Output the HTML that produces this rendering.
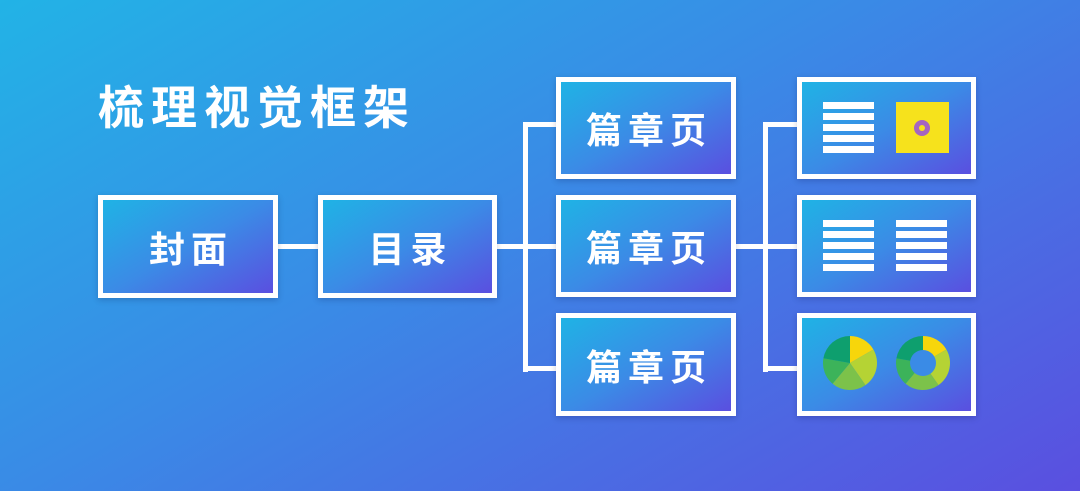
<!DOCTYPE html>
<html><head><meta charset="utf-8"><style>
html,body{margin:0;padding:0;}
body{width:1080px;height:491px;overflow:hidden;background:linear-gradient(150deg,#22b3e6 0%,#3a8ae6 45%,#5a4fe0 100%);position:relative;font-family:"Liberation Sans","Noto Sans CJK SC",sans-serif;}
.t{position:absolute;left:98px;top:78px;color:#fff;font-size:46px;font-weight:bold;letter-spacing:7px;line-height:60px;}
.b{position:absolute;box-sizing:border-box;border:5px solid #fff;background:linear-gradient(150deg,#1fb3e5 0%,#3b8be6 50%,#5a4fe0 100%);color:#fff;font-weight:bold;font-size:36px;display:flex;align-items:center;justify-content:center;letter-spacing:6px;padding-left:6px;box-shadow:0 2px 6px rgba(0,0,60,.2);}
.l{position:absolute;background:#fff;}
svg{position:absolute;left:0;top:0;}
</style></head><body>
<div class="t">梳理视觉框架</div>
<div class="l" style="left:277px;top:244px;width:42px;height:5px"></div>
<div class="l" style="left:496px;top:244px;width:32px;height:5px"></div>
<div class="l" style="left:523px;top:122px;width:5px;height:250px"></div>
<div class="l" style="left:523px;top:122px;width:35px;height:5px"></div>
<div class="l" style="left:523px;top:244px;width:35px;height:5px"></div>
<div class="l" style="left:523px;top:366px;width:35px;height:5px"></div>
<div class="l" style="left:735px;top:244px;width:33px;height:5px"></div>
<div class="l" style="left:763px;top:122px;width:5px;height:250px"></div>
<div class="l" style="left:763px;top:122px;width:35px;height:5px"></div>
<div class="l" style="left:763px;top:244px;width:35px;height:5px"></div>
<div class="l" style="left:763px;top:366px;width:35px;height:5px"></div>
<div class="b" style="left:98px;top:195px;width:180px;height:103px">封面</div>
<div class="b" style="left:318px;top:195px;width:179px;height:103px">目录</div>
<div class="b" style="left:556px;top:77px;width:180px;height:102px">篇章页</div>
<div class="b" style="left:556px;top:195px;width:180px;height:102px">篇章页</div>
<div class="b" style="left:556px;top:313px;width:180px;height:103px">篇章页</div>
<div class="b" style="left:797px;top:77px;width:179px;height:102px"></div>
<div class="b" style="left:797px;top:195px;width:179px;height:102px"></div>
<div class="b" style="left:797px;top:313px;width:179px;height:103px"></div>
<svg width="1080" height="491">
<g fill="#fff">
<rect x="823" y="102" width="51" height="7"/><rect x="823" y="113" width="51" height="7"/><rect x="823" y="124" width="51" height="7"/><rect x="823" y="135" width="51" height="7"/><rect x="823" y="146" width="51" height="7"/>
<rect x="823" y="220" width="51" height="7"/><rect x="823" y="231" width="51" height="7"/><rect x="823" y="242" width="51" height="7"/><rect x="823" y="253" width="51" height="7"/><rect x="823" y="264" width="51" height="7"/>
<rect x="896" y="220" width="51" height="7"/><rect x="896" y="231" width="51" height="7"/><rect x="896" y="242" width="51" height="7"/><rect x="896" y="253" width="51" height="7"/><rect x="896" y="264" width="51" height="7"/>
</g>
<rect x="896" y="102" width="53" height="51" fill="#f6e21c"/>
<circle cx="922" cy="128" r="8" fill="#a565c0"/><circle cx="922" cy="128" r="3" fill="#f6e21c"/>
<g transform="translate(850,363)">
<path d="M0,0 L0,-27 A27,27 0 0 1 23.4,-13.5 Z" fill="#f7d60b"/>
<path d="M0,0 L23.4,-13.5 A27,27 0 0 1 15.5,22.1 Z" fill="#b5d334"/>
<path d="M0,0 L15.5,22.1 A27,27 0 0 1 -17.4,20.7 Z" fill="#7cc24a"/>
<path d="M0,0 L-17.4,20.7 A27,27 0 0 1 -26.6,-4.7 Z" fill="#3cb35a"/>
<path d="M0,0 L-26.6,-4.7 A27,27 0 0 1 0,-27 Z" fill="#0e9f6e"/>
</g>
<g transform="translate(923,363)">
<path d="M0,0 L0,-27 A27,27 0 0 1 23.4,-13.5 Z" fill="#f7d60b"/>
<path d="M0,0 L23.4,-13.5 A27,27 0 0 1 15.5,22.1 Z" fill="#b5d334"/>
<path d="M0,0 L15.5,22.1 A27,27 0 0 1 -17.4,20.7 Z" fill="#7cc24a"/>
<path d="M0,0 L-17.4,20.7 A27,27 0 0 1 -26.6,-4.7 Z" fill="#3cb35a"/>
<path d="M0,0 L-26.6,-4.7 A27,27 0 0 1 0,-27 Z" fill="#0e9f6e"/>
<circle r="13" fill="#3a8be6"/>
</g>
</svg>
</body></html>
